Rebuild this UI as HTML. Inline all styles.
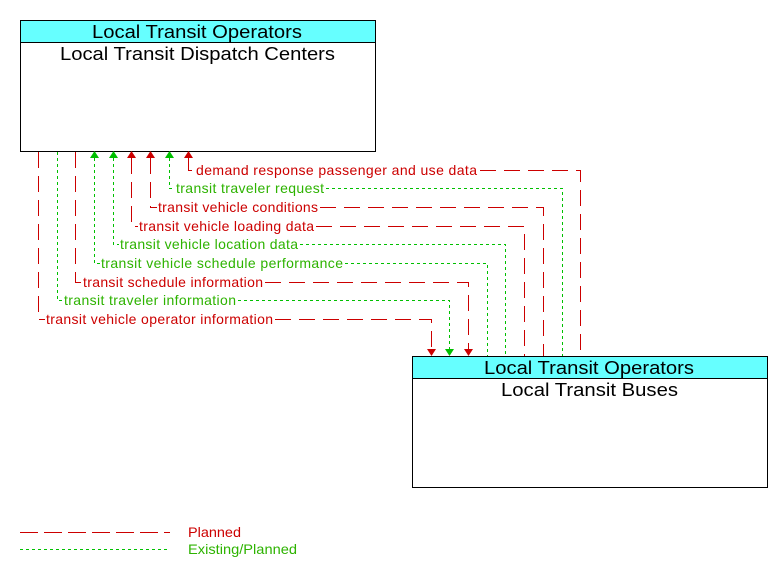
<!DOCTYPE html>
<html><head><meta charset="utf-8"><style>
body{margin:0;background:#fff;}
svg{display:block;font-family:"Liberation Sans",Arial,sans-serif;}
</style></head><body>
<svg width="782" height="576" viewBox="0 0 782 576" xmlns="http://www.w3.org/2000/svg">
<rect x="0" y="0" width="782" height="576" fill="#fff"/>
<rect x="20.5" y="20.5" width="355" height="131" fill="#fff" stroke="#000"/>
<rect x="20.5" y="20.5" width="355" height="22" fill="#66ffff" stroke="#000"/>
<text x="92" y="38" font-size="18" textLength="210" lengthAdjust="spacingAndGlyphs">Local Transit Operators</text>
<text x="60" y="60" font-size="18" textLength="275" lengthAdjust="spacingAndGlyphs">Local Transit Dispatch Centers</text>
<rect x="412.5" y="356.5" width="355" height="131" fill="#fff" stroke="#000"/>
<rect x="412.5" y="356.5" width="355" height="22" fill="#66ffff" stroke="#000"/>
<text x="484" y="374" font-size="18" textLength="210" lengthAdjust="spacingAndGlyphs">Local Transit Operators</text>
<text x="501" y="396" font-size="18" textLength="177" lengthAdjust="spacingAndGlyphs">Local Transit Buses</text>

<g fill="none" stroke-width="1">
<g stroke="#cc0000" stroke-dasharray="16,8">
<path d="M188.5 158 V170.5 H195"/><path d="M480 170.5 H580.5 V356"/>
<path d="M150.5 158 V207.5 H157"/><path d="M320 207.5 H543.5 V356"/>
<path d="M131.5 158 V226.5 H138"/><path d="M316 226.5 H524.5 V356"/>
<path d="M75.5 152 V282.5 H82"/><path d="M265 282.5 H468.5 V350"/>
<path d="M38.5 152 V319.5 H45"/><path d="M275 319.5 H431.5 V350"/>
</g>
<g stroke="#00c000" stroke-dasharray="3,3">
<path d="M169.5 158 V188.5 H175"/><path d="M326 188.5 H562.5 V356"/>
<path d="M113.5 158 V244.5 H119"/><path d="M300 244.5 H505.5 V356"/>
<path d="M94.5 158 V263.5 H100"/><path d="M345 263.5 H487.5 V356"/>
<path d="M57.5 152 V300.5 H63"/><path d="M238 300.5 H449.5 V350"/>
</g>
</g>
<g>
<polygon points="188.5,151 184,158 193,158" fill="#cc0000"/>
<polygon points="169.5,151 165,158 174,158" fill="#00c000"/>
<polygon points="150.5,151 146,158 155,158" fill="#cc0000"/>
<polygon points="131.5,151 127,158 136,158" fill="#cc0000"/>
<polygon points="113.5,151 109,158 118,158" fill="#00c000"/>
<polygon points="94.5,151 90,158 99,158" fill="#00c000"/>
<polygon points="431.5,356 427,349 436,349" fill="#cc0000"/>
<polygon points="449.5,356 445,349 454,349" fill="#00c000"/>
<polygon points="468.5,356 464,349 473,349" fill="#cc0000"/>
</g>
<g font-size="14" lengthAdjust="spacingAndGlyphs">
<text x="196" y="175" fill="#cc0000" textLength="281">demand response passenger and use data</text>
<text x="176" y="193" fill="#2db300" textLength="148">transit traveler request</text>
<text x="158" y="212" fill="#cc0000" textLength="160">transit vehicle conditions</text>
<text x="139" y="231" fill="#cc0000" textLength="175">transit vehicle loading data</text>
<text x="120" y="249" fill="#2db300" textLength="178">transit vehicle location data</text>
<text x="101" y="268" fill="#2db300" textLength="242">transit vehicle schedule performance</text>
<text x="83" y="287" fill="#cc0000" textLength="180">transit schedule information</text>
<text x="64" y="305" fill="#2db300" textLength="172">transit traveler information</text>
<text x="46" y="324" fill="#cc0000" textLength="227">transit vehicle operator information</text>
</g>
<line x1="20" y1="532.5" x2="170" y2="532.5" stroke="#cc0000" stroke-dasharray="18,6"/>
<line x1="20" y1="549.5" x2="170" y2="549.5" stroke="#00c000" stroke-dasharray="3,3"/>
<text x="188" y="537" font-size="14" fill="#cc0000" textLength="53" lengthAdjust="spacingAndGlyphs">Planned</text>
<text x="188" y="554" font-size="14" fill="#2db300" textLength="109" lengthAdjust="spacingAndGlyphs">Existing/Planned</text>
</svg>
</body></html>
